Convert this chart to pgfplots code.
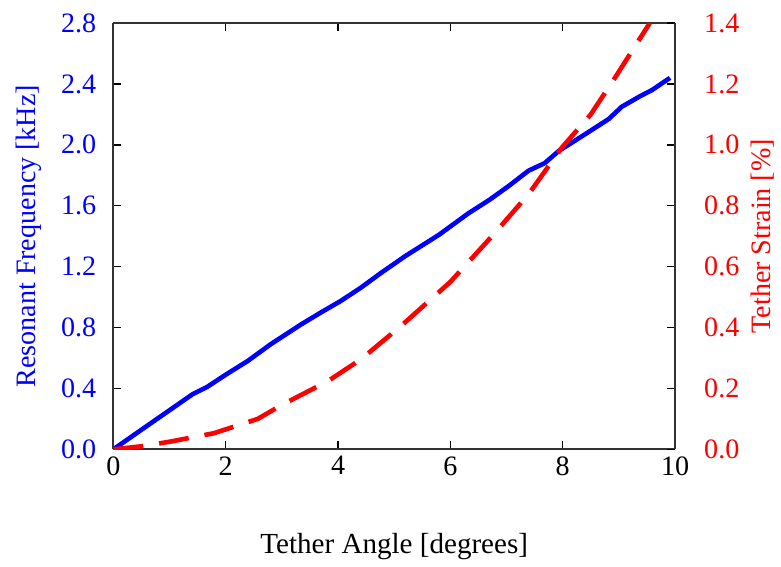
\documentclass[border=0pt]{standalone}
\usepackage{pgfplots}
\pgfplotsset{compat=1.18}
\usepackage{fontspec}
\setmainfont{Liberation Serif}
\begin{document}
\begin{tikzpicture}
\pgfplotsset{
    every axis/.append style={
        scale only axis,
        width=280pt, height=212.5pt,
        xmin=0, xmax=10,
        xtick={0,2,4,6,8,10},
        tick align=inside,
        major tick length=4pt,
        axis line style={line width=0.9pt, black!80},
        tick style={line width=0.7pt, black},
        font=\fontsize{14}{16}\selectfont,
        /pgf/number format/assume math mode=true,
        /pgf/number format/fixed,
        /pgf/number format/fixed zerofill,
        /pgf/number format/precision=1,
    }
}
\begin{axis}[
    axis y line*=left,
    axis x line*=box,
    ymin=0, ymax=2.8,
    ytick={0,0.4,...,2.8},
    xticklabel style={/pgf/number format/precision=0},
    yticklabel style={blue, xshift=-5pt},
    ylabel={Resonant Frequency [kHz]},
    ylabel style={blue, yshift=3pt},
    xlabel={Tether Angle [degrees]},
    xlabel style={yshift=-22pt, font=\fontsize{14.5}{16}\selectfont},
]
\addplot[blue, line width=2.3pt, no marks] coordinates {
(0,0) (0.7,0.18) (1.41,0.362) (1.67,0.41) (2.0,0.49) (2.39,0.58) (2.8,0.69)
(3.34,0.82) (3.7,0.90) (4.05,0.975) (4.4,1.06) (4.77,1.16) (5.2,1.27)
(5.8,1.41) (6.32,1.55) (6.7,1.64) (7.04,1.73) (7.39,1.83) (7.68,1.88)
(7.93,1.96) (8.4,2.07) (8.82,2.17) (9.05,2.25) (9.38,2.32) (9.59,2.36) (9.91,2.44)
};
\coordinate (TL) at (rel axis cs:0,1);
\end{axis}
\begin{axis}[
    axis y line*=right,
    axis x line=none,
    ymin=0, ymax=1.4,
    ytick={0,0.2,...,1.4},
    yticklabel style={red, xshift=11pt},
    ylabel={Tether Strain [\%]},
    ylabel style={red, yshift=1pt},
]
\addplot[red, line width=2.3pt, no marks, dash pattern=on 15pt off 8pt] coordinates {
(0,0) (0.5,0.01) (1.0,0.025) (1.79,0.053) (2.57,0.10) (3.02,0.148)
(3.82,0.224) (4.41,0.296) (5.12,0.405) (6.0,0.55) (6.79,0.71) (7.4,0.84)
(7.98,0.99) (8.5,1.10) (8.95,1.226) (9.55,1.40)
};
\end{axis}
\path (TL) ++(-56.5pt,11.5pt);
\end{tikzpicture}
\end{document}
